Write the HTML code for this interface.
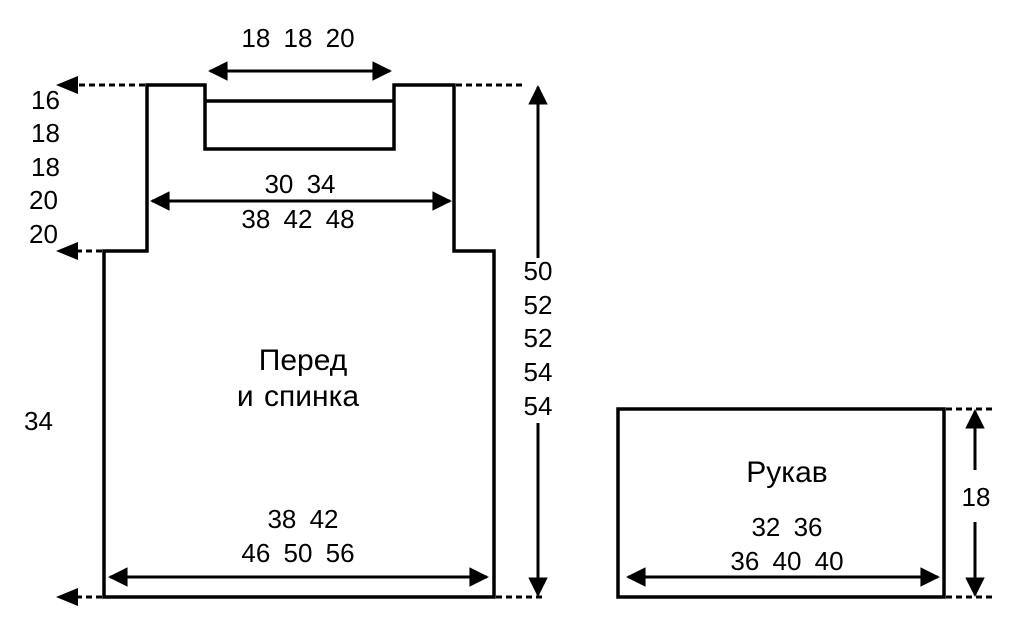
<!DOCTYPE html>
<html><head><meta charset="utf-8"><style>
html,body{margin:0;padding:0;background:#fff;}
svg{display:block}
text{font-family:"Liberation Sans",sans-serif;font-size:26px;fill:#000;word-spacing:6px}
</style></head><body>
<svg width="1024" height="633" viewBox="0 0 1024 633" xmlns="http://www.w3.org/2000/svg">
<defs>
<marker id="a" viewBox="0 0 10 10" refX="9" refY="5" markerWidth="7" markerHeight="6.5" orient="auto-start-reverse" markerUnits="strokeWidth"><path d="M0,0 L10,5 L0,10 z" fill="#000"/></marker>
</defs>
<g fill="none" stroke="#000" stroke-width="3.5">
<path d="M147,85 H205 V149 H394 V85 H454 V251 H494 V597 H104 V251 H147 Z"/>
<line x1="205" y1="101" x2="394" y2="101"/>
<rect x="618" y="409" width="326" height="188"/>
</g>
<g stroke="#000" stroke-width="3">
<line x1="210" y1="71" x2="390" y2="71" marker-start="url(#a)" marker-end="url(#a)"/>
<line x1="152" y1="201" x2="450" y2="201" marker-start="url(#a)" marker-end="url(#a)"/>
<line x1="110" y1="577" x2="487" y2="577" marker-start="url(#a)" marker-end="url(#a)"/>
<line x1="628" y1="577" x2="938" y2="577" marker-start="url(#a)" marker-end="url(#a)"/>
<line x1="538" y1="258" x2="538" y2="87" marker-end="url(#a)"/>
<line x1="538" y1="423" x2="538" y2="595" marker-end="url(#a)"/>
<line x1="975" y1="470" x2="975" y2="411" marker-end="url(#a)"/>
<line x1="975" y1="522" x2="975" y2="595" marker-end="url(#a)"/>
</g>
<g stroke="#000" stroke-width="3" stroke-dasharray="6,4">
<line x1="145" y1="85" x2="74" y2="85"/>
<line x1="102" y1="251" x2="74" y2="251"/>
<line x1="102" y1="597" x2="74" y2="597"/>
<line x1="456" y1="85" x2="522" y2="85"/>
<line x1="496" y1="597" x2="546" y2="597"/>
<line x1="946" y1="409" x2="992" y2="409"/>
<line x1="946" y1="597" x2="994" y2="597"/>
</g>
<g fill="#000">
<path d="M56,85 L78,76 L78,94 Z"/>
<path d="M56,251 L78,242 L78,260 Z"/>
<path d="M56,597 L78,588 L78,606 Z"/>
</g>
<text x="31" y="109">16</text>
<text x="31" y="142">18</text>
<text x="31" y="176">18</text>
<text x="29" y="209">20</text>
<text x="29" y="243">20</text>
<text x="24" y="430">34</text>
<text x="298" y="47" text-anchor="middle">18 18 20</text>
<text x="300" y="193" text-anchor="middle">30 34</text>
<text x="298" y="228" text-anchor="middle">38 42 48</text>
<text x="303" y="370" text-anchor="middle" style="font-size:30px;word-spacing:2px">Перед</text>
<text x="298" y="406" text-anchor="middle" style="font-size:30px;word-spacing:2px">и спинка</text>
<text x="303" y="528" text-anchor="middle">38 42</text>
<text x="298" y="562" text-anchor="middle">46 50 56</text>
<text x="538" y="280" text-anchor="middle">50</text>
<text x="538" y="314" text-anchor="middle">52</text>
<text x="538" y="347" text-anchor="middle">52</text>
<text x="538" y="381" text-anchor="middle">54</text>
<text x="538" y="415" text-anchor="middle">54</text>
<text x="787" y="482" text-anchor="middle" style="font-size:30px">Рукав</text>
<text x="787" y="536" text-anchor="middle">32 36</text>
<text x="787" y="570" text-anchor="middle">36 40 40</text>
<text x="976" y="506" text-anchor="middle">18</text>
</svg>
</body></html>
